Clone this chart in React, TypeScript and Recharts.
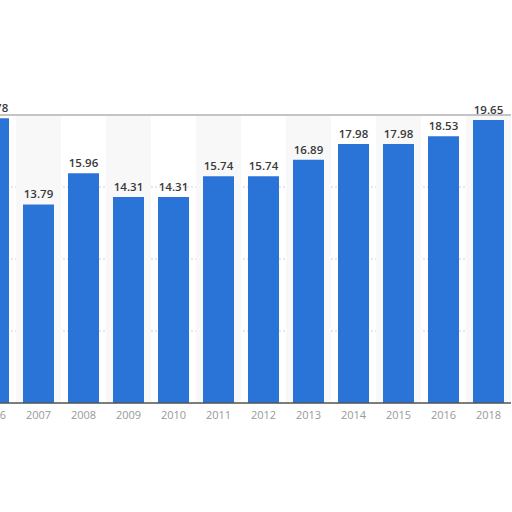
import { BarChart, Bar, XAxis, YAxis, CartesianGrid, LabelList, ReferenceArea, ReferenceLine } from "recharts";

const years = ["2006", "2007", "2008", "2009", "2010", "2011", "2012", "2013", "2014", "2015", "2016", "2018"];
const prices = [19.78, 13.79, 15.96, 14.31, 14.31, 15.74, 15.74, 16.89, 17.98, 17.98, 18.53, 19.65];
const yTicks = [0, 5, 10, 15, 20];

const data = years.map((year, i) => ({ year, value: prices[i] }));
// every second column gets a light band behind it
const shaded = years.filter((_, i) => i % 2 === 1);

const App = () => {
  return (
    <div style={{ position: "absolute", left: -29, top: 0, width: 540, height: 440 }}>
      <BarChart
        width={540}
        height={440}
        data={data}
        margin={{ top: 115, right: 0, bottom: 0, left: 0 }}
        barSize={31}
      >
        {shaded.map((y) => (
          <ReferenceArea key={y} x1={y} x2={y} fill="#f8f8f8" fillOpacity={1} stroke="none" />
        ))}
        <CartesianGrid vertical={false} stroke="#d2d2d2" strokeDasharray="2 2" />
        <XAxis
          dataKey="year"
          height={37}
          tickLine={false}
          axisLine={{ stroke: "#555", strokeWidth: 1.5 }}
          tick={{ fill: "#999", fontSize: 11, fontFamily: "Open Sans" }}
          interval={0}
        />
        <YAxis hide domain={[0, 20]} ticks={yTicks} />
        <Bar dataKey="value" fill="#2a74d8" isAnimationActive={false}>
          <LabelList
            dataKey="value"
            position="top"
            offset={6}
            style={{ fill: "#3a3a3a", fontSize: 11.5, fontWeight: 600, fontFamily: "Open Sans" }}
            formatter={(v: number) => v.toFixed(2)}
          />
        </Bar>
        <ReferenceLine y={20} stroke="#c4c4c4" strokeWidth={2} ifOverflow="visible" />
      </BarChart>
    </div>
  );
};

export default App;
